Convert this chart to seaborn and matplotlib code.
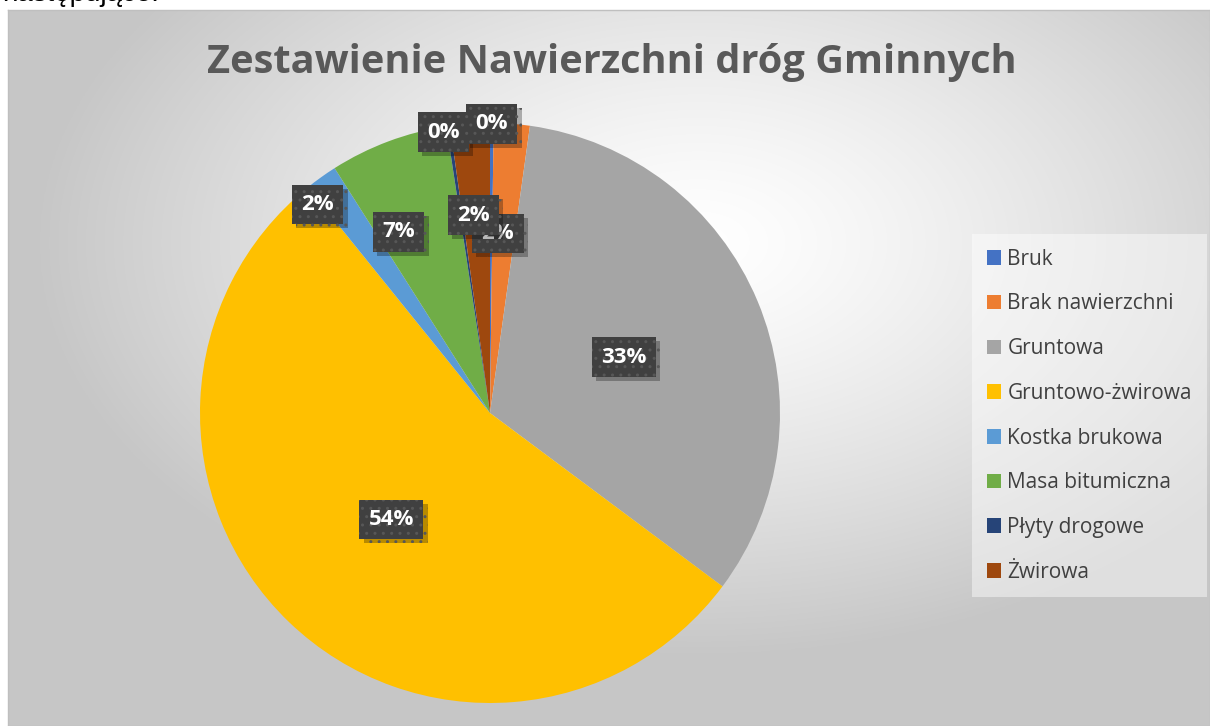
import numpy as np
import matplotlib
matplotlib.use("Agg")
import matplotlib.pyplot as plt
import matplotlib.patheffects as pe
import seaborn as sns

# dane (udzialy w procentach)
kategorie = ["Bruk", "Brak nawierzchni", "Gruntowa", "Gruntowo-żwirowa",
             "Kostka brukowa", "Masa bitumiczna", "Płyty drogowe", "Żwirowa"]
udzialy = [0.2, 2.0, 33.0, 54.0, 1.8, 6.6, 0.2, 2.2]
etykiety = ["0%", "2%", "33%", "54%", "2%", "7%", "0%", "2%"]
kolory = ["#4472C4", "#ED7D31", "#A5A5A5", "#FFC000",
          "#5B9BD5", "#70AD47", "#264478", "#9E480E"]

# polozenie etykiet: promien (ulamek), przesuniecie katowe (stopnie), kolejnosc
lab_r = [0.997, 0.62, 0.50, 0.50, 0.933, 0.70, 0.982, 0.685]
lab_dth = [0, 1.8, 0, 1.1, 3.9, 6.2, 1.2, 0.9]
lab_z = [19, 12, 13, 14, 15, 16, 17, 18]

sns.set_style("white")
plt.rcParams['font.family'] = ['Open Sans', 'DejaVu Sans']
plt.rcParams['hatch.linewidth'] = 1.0

W, H = 1210, 726
fig = plt.figure(figsize=(W / 100, H / 100), dpi=100)
fig.patch.set_facecolor("white")

# tlo obszaru wykresu - gradient radialny
x0, y0, x1, y1 = 8, 10, 1210, 726
bg = fig.add_axes([x0 / W, 0, (x1 - x0) / W, (y1 - y0) / H], zorder=-5)
gx, gy = np.meshgrid(np.linspace(-1, 1, 400), np.linspace(-1, 1, 300))
d = np.sqrt(((gx - 0.15) / 1.1) ** 2 + ((gy + 0.35) / 1.15) ** 2)
d = np.clip(d, 0, 1)
val = 1.0 - 0.22 * d ** 1.3
bg.imshow(np.dstack([val, val, val]), aspect="auto", extent=[0, 1, 0, 1],
          origin="upper", interpolation="bilinear")
bg.set_xlim(0, 1)
bg.set_ylim(0, 1)
bg.set_xticks([])
bg.set_yticks([])
for s in bg.spines.values():
    s.set_color("#bfbfbf")
    s.set_linewidth(1.0)

# ucinany tekst nad wykresem
fig.text(2 / W, 1 - 1 / H, "następujące:", fontsize=20, color="black",
         va="baseline", ha="left", family=["Liberation Sans", "DejaVu Sans"])

# kolowy
cx, cy, R = 490, 413, 290
ax = fig.add_axes([(cx - R) / W, (H - cy - R) / H, 2 * R / W, 2 * R / H])
paleta = sns.color_palette(kolory)
wedges, _ = ax.pie(udzialy, colors=paleta, startangle=90, counterclock=False,
                   wedgeprops=dict(linewidth=0))
ax.set_xlim(-1, 1)
ax.set_ylim(-1, 1)
ax.set_aspect("equal")
ax.axis("off")

for i, (w, lab) in enumerate(zip(wedges, etykiety)):
    th = np.deg2rad((w.theta1 + w.theta2) / 2 + lab_dth[i])
    t = ax.text(lab_r[i] * np.cos(th), lab_r[i] * np.sin(th), lab,
                ha="center", va="center", fontsize=16, fontweight="bold",
                color="white", zorder=lab_z[i],
                bbox=dict(boxstyle="square,pad=0.42", facecolor="#404040",
                          edgecolor="#575757", linewidth=0, hatch=".."))
    t.get_bbox_patch().set_path_effects([
        pe.SimplePatchShadow(offset=(3, -3), shadow_rgbFace="black", alpha=0.28),
        pe.Normal()])

# tytul
fig.text(612 / W, 1 - 62 / H, "Zestawienie Nawierzchni dróg Gminnych",
         fontsize=28.6, fontweight="bold", color="#595959", ha="center", va="center")

# legenda
leg = fig.legend(wedges, kategorie, loc="upper left",
                 bbox_to_anchor=(972 / W, 1 - 234 / H),
                 frameon=True, fontsize=15, labelcolor="#404040",
                 handlelength=0.7, handleheight=0.7, handletextpad=0.3,
                 labelspacing=1.14, borderpad=0.7, borderaxespad=0)
fr = leg.get_frame()
fr.set_facecolor("white")
fr.set_alpha(0.45)
fr.set_edgecolor("none")
fr.set_boxstyle("square", pad=0)

fig.savefig("out.png", dpi=100, facecolor="white")
